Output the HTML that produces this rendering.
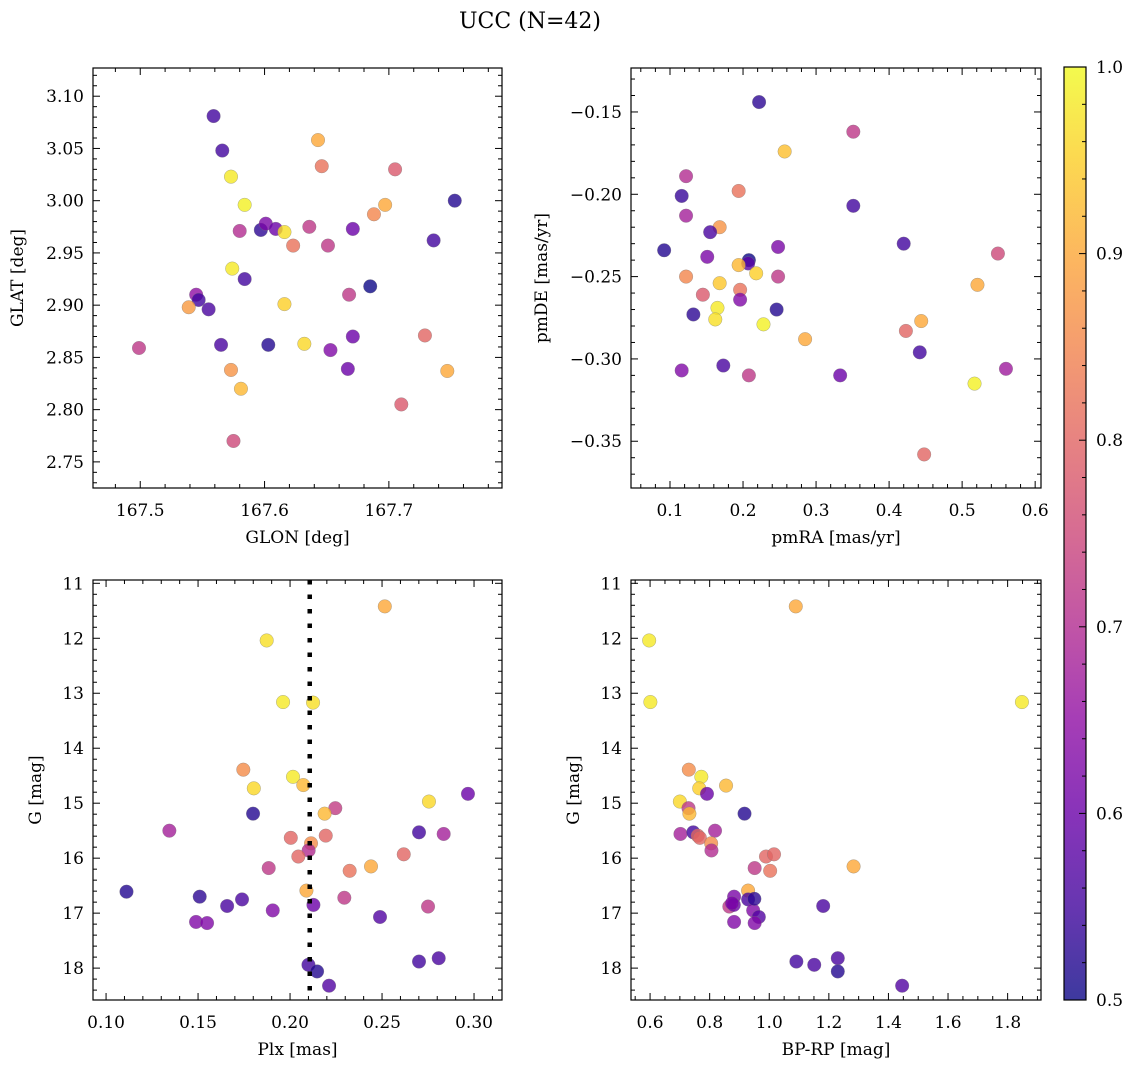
<!DOCTYPE html>
<html><head><meta charset="utf-8"><style>
html,body{margin:0;padding:0;background:#fff;}
svg{display:block;font-family:"DejaVu Serif","Liberation Serif",serif;}
</style></head><body>
<svg id="fig" width="1136" height="1067" viewBox="0 0 1136 1067" xmlns="http://www.w3.org/2000/svg">
<defs>
<linearGradient id="plasma" x1="0" y1="1" x2="0" y2="0">
<stop offset="0" stop-color="#0d0887"/><stop offset="0.1" stop-color="#41049d"/><stop offset="0.2" stop-color="#6a00a8"/><stop offset="0.3" stop-color="#8f0da4"/><stop offset="0.4" stop-color="#b12a90"/><stop offset="0.5" stop-color="#cc4778"/><stop offset="0.6" stop-color="#e16462"/><stop offset="0.7" stop-color="#f2844b"/><stop offset="0.8" stop-color="#fca636"/><stop offset="0.9" stop-color="#fcce25"/><stop offset="1" stop-color="#f0f921"/>
</linearGradient>
</defs>
<text x="530" y="28" font-size="22" text-anchor="middle">UCC (N=42)</text>
</svg>
<script>
// Panel 1: GLON vs GLAT
const glon = [167.559,167.566,167.573,167.643,167.646,167.705,167.584,167.753,167.697,167.688,167.597,167.601,167.609,167.616,167.580,167.636,167.671,167.736,167.623,167.651,167.574,167.584,167.685,167.545,167.547,167.539,167.555,167.668,167.616,167.565,167.603,167.632,167.671,167.653,167.499,167.729,167.667,167.573,167.747,167.581,167.710,167.575];
const glat = [3.081,3.048,3.023,3.058,3.033,3.030,2.996,3.000,2.996,2.987,2.972,2.978,2.973,2.970,2.971,2.975,2.973,2.962,2.957,2.957,2.935,2.925,2.918,2.910,2.905,2.898,2.896,2.910,2.901,2.862,2.862,2.863,2.870,2.857,2.859,2.871,2.839,2.838,2.837,2.820,2.805,2.770];
const prob1 = [0.55,0.55,0.98,0.9,0.82,0.78,0.99,0.52,0.9,0.85,0.53,0.62,0.6,0.97,0.7,0.72,0.6,0.55,0.82,0.72,0.98,0.55,0.5,0.65,0.55,0.88,0.56,0.72,0.95,0.56,0.52,0.96,0.6,0.63,0.72,0.8,0.6,0.87,0.9,0.92,0.78,0.75];
// Panel 2: pmRA vs pmDE
const pmra = [0.222,0.351,0.257,0.122,0.194,0.116,0.351,0.122,0.168,0.155,0.092,0.248,0.420,0.549,0.151,0.208,0.207,0.194,0.218,0.122,0.248,0.521,0.168,0.145,0.196,0.196,0.246,0.132,0.165,0.162,0.228,0.444,0.423,0.285,0.442,0.116,0.173,0.208,0.333,0.560,0.517,0.448];
const pmde = [-0.144,-0.162,-0.174,-0.189,-0.198,-0.201,-0.207,-0.213,-0.220,-0.223,-0.234,-0.232,-0.230,-0.236,-0.238,-0.240,-0.242,-0.243,-0.248,-0.250,-0.250,-0.255,-0.254,-0.261,-0.258,-0.264,-0.270,-0.273,-0.269,-0.276,-0.279,-0.277,-0.283,-0.288,-0.296,-0.307,-0.304,-0.310,-0.310,-0.306,-0.315,-0.358];
const prob2 = [0.53,0.72,0.93,0.7,0.82,0.54,0.55,0.68,0.87,0.56,0.52,0.62,0.55,0.75,0.62,0.5,0.58,0.92,0.95,0.85,0.72,0.9,0.94,0.78,0.82,0.63,0.52,0.53,0.98,0.97,0.99,0.9,0.8,0.9,0.55,0.63,0.56,0.72,0.6,0.67,0.99,0.8];
// Panel 3: Plx vs G
const plx = [0.2515,0.1873,0.1962,0.2125,0.1746,0.2016,0.2072,0.1803,0.2967,0.2755,0.2246,0.2188,0.1799,0.1344,0.2701,0.2835,0.2194,0.2004,0.2114,0.2101,0.2045,0.2618,0.1884,0.2324,0.2440,0.2089,0.1111,0.1509,0.2295,0.1739,0.1658,0.2127,0.2750,0.1906,0.2489,0.1489,0.1549,0.2100,0.2147,0.2701,0.2808,0.2212];
const gmag3 = [11.42,12.04,13.16,13.17,14.39,14.52,14.67,14.73,14.83,14.97,15.09,15.19,15.19,15.50,15.53,15.56,15.59,15.63,15.73,15.86,15.97,15.93,16.18,16.23,16.15,16.59,16.61,16.70,16.72,16.75,16.87,16.85,16.88,16.95,17.07,17.16,17.18,17.94,18.06,17.88,17.82,18.32];
const prob3 = [0.9,0.97,0.98,0.97,0.86,0.98,0.92,0.96,0.6,0.96,0.73,0.92,0.52,0.68,0.55,0.68,0.8,0.8,0.86,0.7,0.8,0.8,0.72,0.82,0.9,0.9,0.52,0.53,0.72,0.56,0.56,0.6,0.72,0.63,0.57,0.63,0.63,0.55,0.52,0.55,0.56,0.57];
const plxLine = [0.2107];
// Panel 4: BP-RP vs G
const bprp = [1.089,0.597,0.601,1.848,0.730,0.772,0.765,0.855,0.791,0.700,0.729,0.732,0.917,0.702,0.745,0.818,0.760,0.767,0.805,0.806,0.989,1.016,0.951,1.003,1.283,0.929,0.882,0.929,1.181,0.866,0.881,0.946,0.965,0.882,0.951,1.091,1.151,1.230,1.230,1.446,0.875,0.950];
const gmag4 = [11.42,12.04,13.16,13.16,14.39,14.52,14.73,14.68,14.83,14.97,15.09,15.19,15.19,15.56,15.53,15.50,15.59,15.63,15.73,15.86,15.97,15.93,16.18,16.23,16.15,16.59,16.70,16.75,16.87,16.88,16.85,16.95,17.07,17.16,17.18,17.88,17.94,17.82,18.06,18.32,16.82,16.74];
const prob4 = [0.9,0.98,0.98,0.98,0.86,0.98,0.95,0.92,0.6,0.96,0.72,0.92,0.52,0.68,0.55,0.68,0.8,0.8,0.86,0.7,0.8,0.8,0.72,0.82,0.9,0.9,0.62,0.56,0.56,0.72,0.6,0.63,0.57,0.63,0.63,0.55,0.56,0.56,0.52,0.57,0.62,0.53];
const cbTicks = [0.5,0.6,0.7,0.8,0.9,1.0];

const NS = 'http://www.w3.org/2000/svg';
const svg = document.getElementById('fig');
const stops = [[13,8,135],[65,4,157],[106,0,168],[143,13,164],[177,42,144],[204,71,120],[225,100,98],[242,132,75],[252,166,54],[252,206,37],[240,249,33]];
function plasma(p){
  let t = Math.max(0, Math.min(1, (p-0.5)/0.5))*10;
  let i = Math.min(9, Math.floor(t)), f = t-i;
  const a = stops[i], b = stops[i+1];
  return 'rgb(' + [0,1,2].map(k=>Math.round(a[k]+(b[k]-a[k])*f)).join(',') + ')';
}
function mk(tag, attrs, parent){
  const e = document.createElementNS(NS, tag);
  for (const k in attrs) e.setAttribute(k, attrs[k]);
  (parent||svg).appendChild(e);
  return e;
}
function fmt(v, d){ let s = v.toFixed(d); if (v < 0) s = '\u2212' + s.slice(1); return s; }

function panel(c){
  const g = mk('g', {});
  
  
  const X = v => c.x0 + (v - c.xmin)/(c.xmax - c.xmin)*(c.x1 - c.x0);
  const Y = c.invert ? (v => c.y0 + (v - c.ymin)/(c.ymax - c.ymin)*(c.y1 - c.y0))
                     : (v => c.y1 - (v - c.ymin)/(c.ymax - c.ymin)*(c.y1 - c.y0));
  const tg = mk('g', {stroke:'#000', 'stroke-width':1}, g);
  
  
  const eps = 1e-9;
  for (let v = Math.ceil(c.xmin/c.xminor - eps)*c.xminor; v <= c.xmax + eps; v += c.xminor) {
    const isMaj = Math.abs(v/c.xmajor - Math.round(v/c.xmajor)) < 1e-6;
    const L = isMaj ? 7 : 4, px = X(v);
    mk('line', {x1:px, x2:px, y1:c.y1, y2:c.y1 - L}, tg);
    mk('line', {x1:px, x2:px, y1:c.y0, y2:c.y0 + L}, tg);
    if (isMaj) {
      const t = mk('text', {x:px, y:c.y1 + 28, 'font-size':17, 'text-anchor':'middle', stroke:'none'}, g);
      
      
      t.textContent = fmt(v, c.xdec);
    }
  }
  for (let v = Math.ceil(c.ymin/c.yminor - eps)*c.yminor; v <= c.ymax + eps; v += c.yminor) {
    const isMaj = Math.abs(v/c.ymajor - Math.round(v/c.ymajor)) < 1e-6;
    const L = isMaj ? 7 : 4, py = Y(v);
    mk('line', {x1:c.x0, x2:c.x0 + L, y1:py, y2:py}, tg);
    mk('line', {x1:c.x1, x2:c.x1 - L, y1:py, y2:py}, tg);
    if (isMaj) {
      const t = mk('text', {x:c.x0 - 9, y:py + 6, 'font-size':17, 'text-anchor':'end', stroke:'none'}, g);
      
      
      t.textContent = fmt(v, c.ydec);
    }
  }
  const pg = mk('g', {}, g);
  
  
  const clip = 'clip-' + c.name;
  const cp = mk('clipPath', {id:clip}, g);
  mk('rect', {x:c.x0, y:c.y0, width:c.x1-c.x0, height:c.y1-c.y0}, cp);
  pg.setAttribute('clip-path', 'url(#' + clip + ')');
  for (let i = 0; i < c.xs.length; i++) {
    const ci = mk('circle', {cx:X(c.xs[i]), cy:Y(c.ys[i]), r:6.8, fill:plasma(c.ps[i]), 'fill-opacity':0.8, stroke:'#7a7a7a', 'stroke-opacity':0.6, 'stroke-width':0.5}, pg);
    
    
  }
  if (c.vline) {
    c.vline.forEach(v => {
      const l = mk('line', {x1:X(v), x2:X(v), y1:c.y0, y2:c.y1, stroke:'#000', 'stroke-width':4.5, 'stroke-dasharray':'4.5,10'}, g);
      
      
    });
  }
  const fr = mk('rect', {x:c.x0, y:c.y0, width:c.x1-c.x0, height:c.y1-c.y0, fill:'none', stroke:'#000', 'stroke-width':1.2}, g);
  
  
  const xl = mk('text', {x:(c.x0+c.x1)/2, y:c.y1 + 55, 'font-size':17, 'text-anchor':'middle'}, g);
  
  
  xl.textContent = c.xlabel;
  const yx = c.ylx, yy = (c.y0+c.y1)/2;
  const yl = mk('text', {x:yx, y:yy, 'font-size':17, 'text-anchor':'middle', transform:'rotate(-90 ' + yx + ' ' + yy + ')'}, g);
  
  
  yl.textContent = c.ylabel;
}

panel({name:'glon-glat-panel', x0:93, x1:502, y0:68, y1:488, xmin:167.462, xmax:167.791, ymin:2.725, ymax:3.127,
  xmajor:0.1, xminor:0.02, xdec:1, ymajor:0.05, yminor:0.01, ydec:2, xs:glon, ys:glat, ps:prob1,
  xlabel:'GLON [deg]', ylabel:'GLAT [deg]', ylx:23});
panel({name:'pm-panel', x0:631, x1:1041, y0:68, y1:488, xmin:0.0466, xmax:0.608, ymin:-0.3784, ymax:-0.1233,
  xmajor:0.1, xminor:0.02, xdec:1, ymajor:0.05, yminor:0.01, ydec:2, xs:pmra, ys:pmde, ps:prob2,
  xlabel:'pmRA [mas/yr]', ylabel:'pmDE [mas/yr]', ylx:547});
panel({name:'plx-g-panel', x0:93, x1:502, y0:580, y1:1000, xmin:0.0929, xmax:0.3152, ymin:10.94, ymax:18.58, invert:true,
  xmajor:0.05, xminor:0.01, xdec:2, ymajor:1, yminor:0.2, ydec:0, xs:plx, ys:gmag3, ps:prob3, vline:plxLine,
  xlabel:'Plx [mas]', ylabel:'G [mag]', ylx:41});
panel({name:'cmd-panel', x0:631, x1:1041, y0:580, y1:1000, xmin:0.536, xmax:1.912, ymin:10.94, ymax:18.58, invert:true,
  xmajor:0.2, xminor:0.05, xdec:1, ymajor:1, yminor:0.2, ydec:0, xs:bprp, ys:gmag4, ps:prob4,
  xlabel:'BP-RP [mag]', ylabel:'G [mag]', ylx:579});

const cb = mk('g', {});


const cbx0 = 1064, cbx1 = 1086, cby0 = 67, cby1 = 1000;
mk('rect', {x:cbx0, y:cby0, width:cbx1-cbx0, height:cby1-cby0, fill:'url(#plasma)', 'fill-opacity':0.8}, cb);
mk('rect', {x:cbx0, y:cby0, width:cbx1-cbx0, height:cby1-cby0, fill:'none', stroke:'#000', 'stroke-width':1.2}, cb);
const CY = v => cby1 - (v - 0.5)/0.5*(cby1 - cby0);
for (let k = 0; k <= 25; k++) {
  const v = 0.5 + k*0.02, isMaj = k % 5 === 0;
  mk('line', {x1:cbx1, x2:cbx1 - (isMaj ? 7 : 4), y1:CY(v), y2:CY(v), stroke:'#000', 'stroke-width':1}, cb);
}
cbTicks.forEach(v => {
  const t = mk('text', {x:1096, y:CY(v) + 6, 'font-size':17}, cb);
  
  
  t.textContent = v.toFixed(1);
});
</script>
</body></html>
